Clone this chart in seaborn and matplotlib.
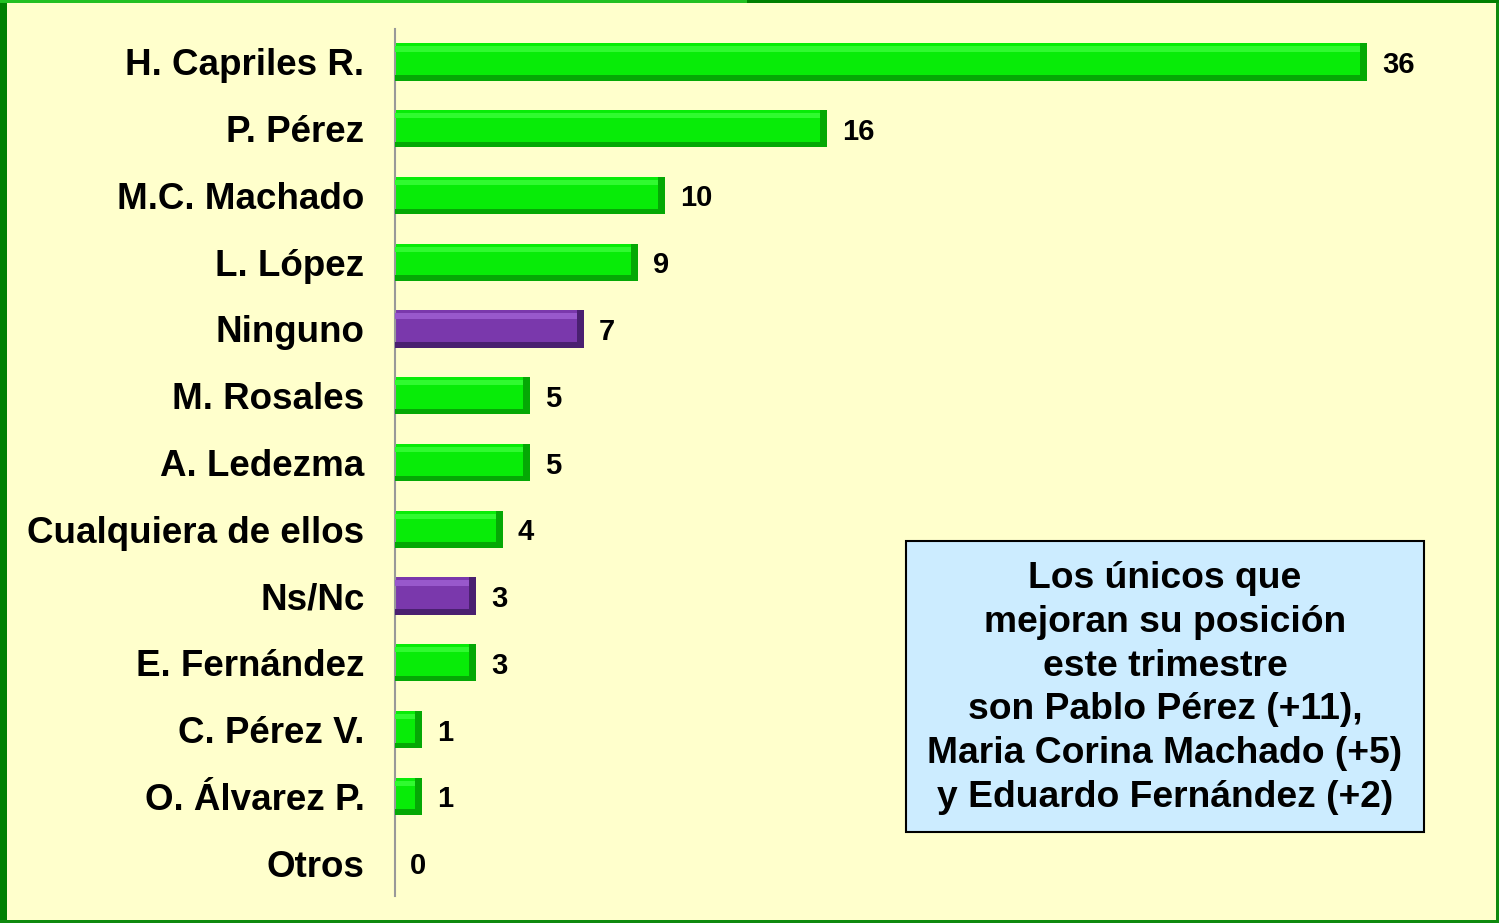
import numpy as np
import pandas as pd
import matplotlib
matplotlib.use("Agg")
import matplotlib.pyplot as plt
import seaborn as sns
from matplotlib.patches import Rectangle

categories = ['H. Capriles R.', 'P. Pérez', 'M.C. Machado', 'L. López', 'Ninguno',
              'M. Rosales', 'A. Ledezma', 'Cualquiera de ellos', 'Ns/Nc',
              'E. Fernández', 'C. Pérez V.', 'O. Álvarez P.', 'Otros']
values = [36, 16, 10, 9, 7, 5, 5, 4, 3, 3, 1, 1, 0]
groups = ['cand', 'cand', 'cand', 'cand', 'none', 'cand', 'cand', 'cand', 'none',
          'cand', 'cand', 'cand', 'cand']
note = ("Los únicos que\nmejoran su posición\neste trimestre\nson Pablo Pérez (+11),\n"
        "Maria Corina Machado (+5)\ny Eduardo Fernández (+2)")

palette = {'cand': '#08EC08', 'none': '#7A38AC'}
shade = {'cand': '#05A805', 'none': '#4A2070'}
light = {'cand': '#30FA30', 'none': '#9858CC'}

df = pd.DataFrame({'name': categories, 'value': values, 'group': groups})

sns.set_style("white")
plt.rcParams['font.family'] = ['Liberation Sans', 'DejaVu Sans']
plt.rcParams['font.weight'] = 'bold'
plt.rcParams['text.color'] = 'black'
plt.rcParams['ytick.color'] = 'black'

bg = '#FFFFCC'
W, H = 1499, 923
fig = plt.figure(figsize=(W / 100, H / 100), dpi=100, facecolor=bg)
ax = fig.add_axes([395 / W, 26.6 / H, 1080 / W, (896.4 - 28.6) / H])
ax.set_facecolor(bg)

sns.barplot(data=df, y='name', x='value', hue='group', palette=palette, orient='h',
            width=0.56, dodge=False, legend=False, ax=ax, saturation=1,
            edgecolor='none')

# bevel look: light top strip, dark bottom strip and dark right end
for bars, g in zip(ax.containers, ['cand', 'none']):
    for p in bars:
        w = p.get_width()
        if w <= 0:
            continue
        x0, y0, h = p.get_x(), p.get_y(), p.get_height()
        ax.add_patch(Rectangle((x0, y0 + h * 0.08), w, h * 0.14, color=light[g], lw=0, zorder=3))
        ax.add_patch(Rectangle((x0, y0 + h * 0.85), w, h * 0.15, color=shade[g], lw=0, zorder=3))
        ax.add_patch(Rectangle((x0 + w - 0.25, y0), 0.25, h, color=shade[g], lw=0, zorder=3))

for i, v in enumerate(values):
    ax.text(v + 0.55, i, str(v), va='center_baseline', ha='left', fontsize=21,
            fontweight='bold', color='black')

ax.set_xlim(0, 40)
ax.set_ylim(12.5, -0.5)
ax.set_xlabel('')
ax.set_ylabel('')
ax.set_xticks([])
ax.tick_params(axis='y', length=0, pad=22, labelsize=26.5, labelcolor='black')
for lab in ax.get_yticklabels():
    lab.set_fontweight('bold')
for s in ['top', 'right', 'bottom']:
    ax.spines[s].set_visible(False)
ax.spines['left'].set_color('#999999')
ax.spines['left'].set_linewidth(1.5)

# note box
fig.patches.append(Rectangle((906 / W, 1 - 832 / H), 518 / W, 291 / H, transform=fig.transFigure,
                             facecolor='#CCECFF', edgecolor='black', lw=1.5, zorder=5))
fig.text(1165 / W, 1 - 688 / H, note, ha='center', va='center', fontsize=26.8,
         fontweight='bold', linespacing=1.32, color='black', zorder=6)

# slide border
fig.patches.append(Rectangle((0, 0), 7 / W, 1, transform=fig.transFigure, color='#008000', lw=0))
fig.patches.append(Rectangle((1 - 3 / W, 0), 3 / W, 1, transform=fig.transFigure, color='#0E8A0E', lw=0))
fig.patches.append(Rectangle((0, 0), 1, 3 / H, transform=fig.transFigure, color='#0E8A0E', lw=0))
fig.patches.append(Rectangle((0, 1 - 3 / H), 1, 3 / H, transform=fig.transFigure, color='#008000', lw=0))
fig.patches.append(Rectangle((0, 1 - 3 / H), 747 / W, 3 / H, transform=fig.transFigure, color='#22C022', lw=0))

fig.savefig('out.png', dpi=100, facecolor=bg)
